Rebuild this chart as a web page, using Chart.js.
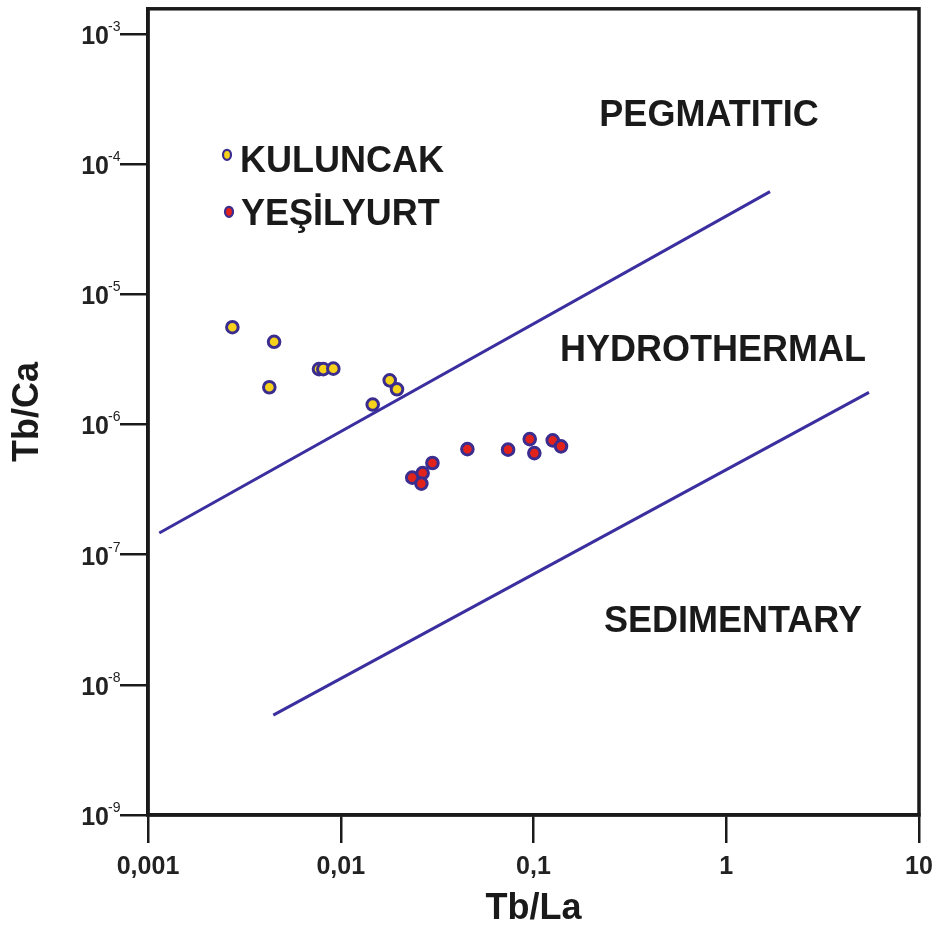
<!DOCTYPE html>
<html>
<head>
<meta charset="utf-8">
<script src="https://cdn.jsdelivr.net/npm/chart.js@4.4.1/dist/chart.umd.min.js"></script>
<style>
html,body{margin:0;padding:0;background:#ffffff;}
#wrap{width:937px;height:928px;position:relative;}
</style>
</head>
<body>
<div id="wrap"><canvas id="c" width="937" height="928"></canvas></div>
<script>
// ---------------- data ----------------
const seriesNames = ['KULUNCAK', 'YEŞİLYURT'];

const kuluncakTbLa = [0.00274, 0.00451, 0.00426, 0.00771, 0.00812, 0.00915, 0.01795, 0.01958, 0.01465];
const kuluncakTbCa = [5.58e-6, 4.31e-6, 1.93e-6, 2.66e-6, 2.66e-6, 2.68e-6, 2.18e-6, 1.86e-6, 1.42e-6];

const yesilyurtTbLa = [0.0235, 0.0266, 0.0262, 0.0299, 0.0454, 0.0738, 0.0956, 0.1010, 0.1258, 0.1389];
const yesilyurtTbCa = [3.90e-7, 4.23e-7, 3.51e-7, 5.05e-7, 6.46e-7, 6.40e-7, 7.71e-7, 6.02e-7, 7.54e-7, 6.78e-7];

// field boundaries (two end points each)
const upperBoundaryTbLa = [0.001144, 1.687];
const upperBoundaryTbCa = [1.466e-7, 6.13e-5];
const lowerBoundaryTbLa = [0.004467, 5.503];
const lowerBoundaryTbCa = [5.85e-9, 1.76e-6];

const xTickValues = [0.001, 0.01, 0.1, 1, 10];
const xTickLabels = ['0,001', '0,01', '0,1', '1', '10'];
const yTickValues = [1e-9, 1e-8, 1e-7, 1e-6, 1e-5, 1e-4, 1e-3];
const yTickExponents = ['-9', '-8', '-7', '-6', '-5', '-4', '-3'];

const fieldNames = ['PEGMATITIC', 'HYDROTHERMAL', 'SEDIMENTARY'];

// ---------------- style ----------------
const FONT = "'Liberation Sans', Arial, Helvetica, sans-serif";
const INK = '#1a1a1a';
const EDGE = '#3a2d8f';
const YELLOW = '#f6d31a';
const RED = '#e2231c';
const LINE = '#3b2fa0';

const toPts = (xs, ys) => xs.map((x, i) => ({ x: x, y: ys[i] }));

const decoPlugin = {
  id: 'deco',
  afterDraw(chart) {
    const ctx = chart.ctx;
    const a = chart.chartArea;
    const xs = chart.scales.x, ys = chart.scales.y;
    ctx.save();
    // frame
    ctx.strokeStyle = INK;
    ctx.lineWidth = 3.5;
    ctx.strokeRect(a.left, a.top, a.right - a.left, a.bottom - a.top);

    // y tick labels 10^-n
    ctx.fillStyle = '#222';
    yTickValues.forEach((v, i) => {
      const py = ys.getPixelForValue(v);
      ctx.font = 'bold 25px ' + FONT;
      ctx.textAlign = 'right';
      ctx.textBaseline = 'alphabetic';
      ctx.fillText('10', 109, py + 10);
      ctx.font = '14px ' + FONT;
      ctx.textAlign = 'left';
      ctx.fillText(yTickExponents[i], 108, py - 3);
    });

    // field labels
    const anchors = [[0.814, 2.39e-4], [0.853, 3.70e-6], [1.084, 3.08e-8]];
    ctx.fillStyle = INK;
    ctx.font = 'bold 36px ' + FONT;
    ctx.textAlign = 'center';
    ctx.textBaseline = 'middle';
    fieldNames.forEach((t, i) => {
      ctx.fillText(t, xs.getPixelForValue(anchors[i][0]), ys.getPixelForValue(anchors[i][1]) + 1);
    });

    // legend
    const legend = [
      { name: seriesNames[0], fill: YELLOW, mx: a.left + 79, my: a.top + 146, tx: a.left + 92, ty: a.top + 153 },
      { name: seriesNames[1], fill: RED, mx: a.left + 81, my: a.top + 203, tx: a.left + 93, ty: a.top + 206 }
    ];
    legend.forEach(l => {
      ctx.beginPath();
      ctx.ellipse(l.mx, l.my, 4, 5, 0, 0, Math.PI * 2);
      ctx.fillStyle = l.fill;
      ctx.fill();
      ctx.lineWidth = 2.2;
      ctx.strokeStyle = EDGE;
      ctx.stroke();
      ctx.fillStyle = INK;
      ctx.font = 'bold 36px ' + FONT;
      ctx.textAlign = 'left';
      ctx.textBaseline = 'middle';
      ctx.fillText(l.name, l.tx, l.ty);
    });
    ctx.restore();
  }
};

const pointStyleCommon = { pointRadius: 5.8, pointHoverRadius: 5.8, borderWidth: 3, borderColor: EDGE, showLine: false };

new Chart(document.getElementById('c'), {
  type: 'scatter',
  data: {
    datasets: [
      Object.assign({ label: seriesNames[0], data: toPts(kuluncakTbLa, kuluncakTbCa), backgroundColor: YELLOW, pointBackgroundColor: YELLOW, order: 1 }, pointStyleCommon),
      Object.assign({ label: seriesNames[1], data: toPts(yesilyurtTbLa, yesilyurtTbCa), backgroundColor: RED, pointBackgroundColor: RED, order: 2 }, pointStyleCommon),
      { label: 'upper', data: toPts(upperBoundaryTbLa, upperBoundaryTbCa), showLine: true, borderColor: LINE, borderWidth: 3, pointRadius: 0, fill: false, order: 3 },
      { label: 'lower', data: toPts(lowerBoundaryTbLa, lowerBoundaryTbCa), showLine: true, borderColor: LINE, borderWidth: 3, pointRadius: 0, fill: false, order: 4 }
    ]
  },
  options: {
    responsive: false,
    animation: false,
    events: [],
    layout: { padding: { top: 8, right: 18, left: 0, bottom: 0 } },
    plugins: { legend: { display: false }, tooltip: { enabled: false } },
    scales: {
      x: {
        type: 'logarithmic',
        position: 'bottom',
        min: 0.001,
        max: 10,
        afterBuildTicks: s => { s.ticks = xTickValues.map(v => ({ value: v, major: true })); },
        afterFit: s => { s.height = 113; s.paddingLeft = 0; s.paddingRight = 0; },
        ticks: {
          autoSkip: false, maxRotation: 0, minRotation: 0, padding: 9, color: '#222',
          font: { family: FONT, size: 25, weight: 'bold' },
          callback: (v) => {
            const i = xTickValues.findIndex(t => Math.abs(Math.log10(t) - Math.log10(v)) < 1e-6);
            return i >= 0 ? xTickLabels[i] : '';
          }
        },
        grid: { drawOnChartArea: false, drawTicks: true, tickLength: 28, lineWidth: 2.5, color: INK },
        border: { display: true, width: 3.5, color: INK },
        title: { display: true, text: 'Tb/La', color: INK, font: { family: FONT, size: 36, weight: 'bold', lineHeight: 1.1 }, padding: { top: 0, bottom: -1 } }
      },
      y: {
        type: 'logarithmic',
        position: 'left',
        min: 1e-9,
        max: 1.556e-3,
        afterBuildTicks: s => { s.ticks = yTickValues.map(v => ({ value: v, major: true })); },
        afterFit: s => { s.width = 148; },
        ticks: { display: false, autoSkip: false },
        grid: { drawOnChartArea: false, drawTicks: true, tickLength: 28, lineWidth: 2.5, color: INK },
        border: { display: true, width: 3.5, color: INK },
        title: { display: true, text: 'Tb/Ca', color: INK, font: { family: FONT, size: 36, weight: 'bold', lineHeight: 1.1 }, padding: { top: 8, bottom: 0 } }
      }
    }
  },
  plugins: [decoPlugin]
});
</script>
</body>
</html>
